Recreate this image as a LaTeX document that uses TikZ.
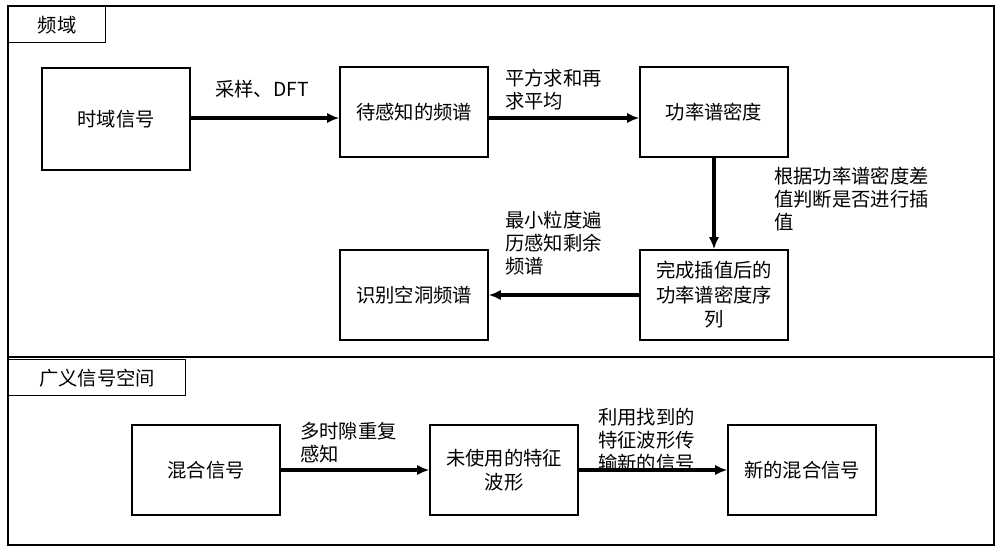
\documentclass[tikz,border=0pt]{standalone}
\usepackage{fontspec}
\setmainfont{Noto Sans CJK SC}
\usetikzlibrary{arrows.meta}
\tikzset{
box/.style={draw, thick, minimum width=2.96cm, minimum height=1.8cm, align=center, font=\fontsize{11}{14}\selectfont},
tab/.style={draw, thick, anchor=north west, inner sep=0pt, font=\fontsize{11}{14}\selectfont},
arr/.style={line width=2pt, -{Latex[length=7pt,width=6pt]}},
lbl/.style={align=left, font=\fontsize{11}{13}\selectfont, inner sep=1pt}}
\begin{document}
\begin{tikzpicture}[x=0.02cm, y=-0.02cm]
\useasboundingbox (0,0) rectangle (1000,552);
% panels
\draw[thick] (8,6) rectangle (994,357);
\draw[thick] (8,357) rectangle (994,545);
\node[tab, minimum width=1.94cm, minimum height=0.72cm] (t1) at (8,6) {频域};
\node[tab, minimum width=3.54cm, minimum height=0.72cm] (t2) at (8,359) {广义信号空间};
% boxes
\node[box, minimum height=2.04cm] (sig) at (116,119) {时域信号};
\node[box] (spec) at (414,112) {待感知的频谱};
\node[box] (psd) at (714,112) {功率谱密度};
\node[box] (ipsd) at (714,295) {完成插值后的\\功率谱密度序\\列};
\node[box] (hole) at (414,295) {识别空洞频谱};
\node[box] (mix) at (206,470) {混合信号};
\node[box] (wave) at (504,470) {未使用的特征\\波形};
\node[box] (new) at (802,470) {新的混合信号};
% connectors
\draw[arr] (sig.east |- 0,118) -- (spec.west |- 0,118);
\draw[arr] (spec.east |- 0,118) -- (psd.west |- 0,118);
\draw[arr] (psd) -- (ipsd);
\draw[arr] (ipsd) -- (hole);
\draw[arr] (mix) -- (wave);
\draw[arr] (wave) -- (new);
% labels
\node[lbl, anchor=south] (l1) at (262,100) {采样、DFT};
\node[lbl, anchor=south west] (l2) at (503,112) {平方求和再\\求平均};
\node[lbl, anchor=north west] (l3) at (772,165) {根据功率谱密度差\\值判断是否进行插\\值};
\node[lbl, anchor=south west] (l4) at (503,277) {最小粒度遍\\历感知剩余\\频谱};
\node[lbl, anchor=south west] (l5) at (298,465) {多时隙重复\\感知};
\node[lbl, anchor=south west] (l6) at (596,474) {利用找到的\\特征波形传\\输新的信号};
\end{tikzpicture}
\end{document}
